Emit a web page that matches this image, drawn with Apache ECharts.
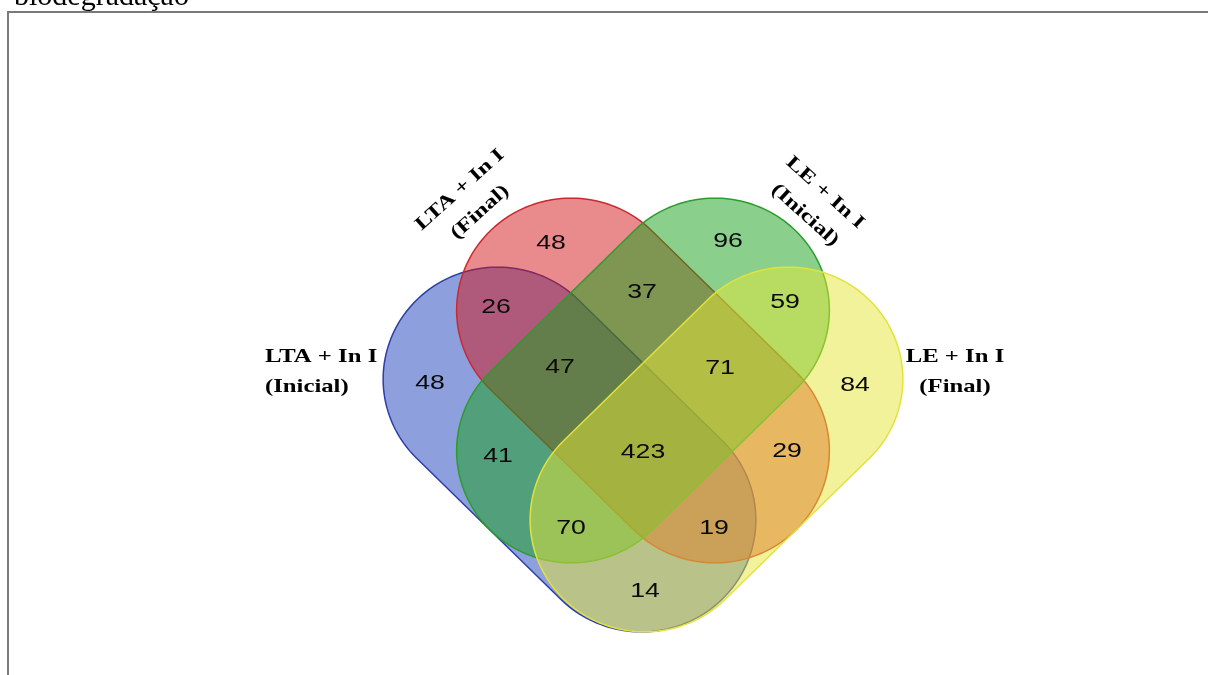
<!DOCTYPE html>
<html>
<head>
<meta charset="utf-8">
<script src="https://cdn.jsdelivr.net/npm/echarts@6/dist/echarts.min.js"></script>
<style>
  html, body { margin: 0; padding: 0; background: #ffffff; }
  #chart { width: 1208px; height: 675px; }
</style>
</head>
<body>
<div id="chart"></div>
<script>
// ---- data ----
const setNames = ['LTA + In I\n(Inicial)', 'LTA + In I\n(Final)', 'LE + In I\n(Inicial)', 'LE + In I\n(Final)'];
// A = LTA Inicial, B = LTA Final, C = LE Inicial, D = LE Final
const regionSets = ['A', 'B', 'C', 'D', 'AB', 'BC', 'CD', 'ABC', 'BCD', 'AC', 'ABCD', 'BD', 'ACD', 'ABD', 'AD'];
const regionCounts = [48, 48, 96, 84, 26, 37, 59, 47, 71, 41, 423, 29, 70, 19, 14];
const chartTitle = 'biodegradação';

// ---- layout (pixel space of the 1208 x 675 canvas) ----
// each set is a rounded capsule: centre and tilt; shared cap radius and distance between cap centres
const capsuleLayout = [
  { cx: 569.5, cy: 449.5, angle: 45 },
  { cx: 643, cy: 380.5, angle: 45 },
  { cx: 643, cy: 380.5, angle: -45 },
  { cx: 716.5, cy: 449.5, angle: -45 }
];
const capRadius = 112;
const capSpan = 199;
const stretchX = 1.022;
const regionPos = [
  [430, 383], [551, 243], [728, 241], [855, 385],
  [496, 307], [642, 292], [785, 302],
  [560, 367], [720, 368],
  [498, 456], [643, 452], [787, 451],
  [571, 528], [714, 528], [645, 591]
];
const setLabelLayout = [
  { x: 265, y: 372, rot: 0, align: 'left', size: 19, sx: 1.3 },
  { x: 470, y: 201, rot: 42, align: 'center', size: 19, sx: 1.3 },
  { x: 815, y: 204, rot: -42, align: 'center', size: 19, sx: 1.3 },
  { x: 955, y: 372, rot: 0, align: 'center', size: 19, sx: 1.3 }
];
const fills = ['rgba(27,63,185,0.5)', 'rgba(211,21,25,0.5)', 'rgba(21,161,25,0.5)', 'rgba(229,229,53,0.5)'];
const strokes = ['#2b3ea6', '#c92a2e', '#2c9c2c', '#e2e23c'];

const chart = echarts.init(document.getElementById('chart'), null, { renderer: 'canvas' });

function capsulePoints(s, api) {
  const th = s.angle * Math.PI / 180;
  const dx = Math.cos(th) * capSpan / 2;
  const dy = Math.sin(th) * capSpan / 2;
  const caps = [[dx, dy, th - Math.PI / 2], [-dx, -dy, th + Math.PI / 2]];
  const pts = [];
  const n = 90;
  caps.forEach(function (c) {
    for (let k = 0; k <= n; k++) {
      const t = c[2] + Math.PI * k / n;
      const mx = c[0] + capRadius * Math.cos(t);
      const my = c[1] + capRadius * Math.sin(t);
      pts.push(api.coord([s.cx + stretchX * mx, s.cy + my]));
    }
  });
  return pts;
}

const option = {
  animation: false,
  backgroundColor: '#ffffff',
  grid: { left: 0, right: 0, top: 0, bottom: 0 },
  xAxis: { type: 'value', min: 0, max: 1208, show: false },
  yAxis: { type: 'value', min: 0, max: 675, inverse: true, show: false },
  graphic: [
    {
      type: 'polyline', silent: true,
      shape: { points: [[8, 675], [8, 12], [1208, 12]] },
      style: { stroke: '#7a7a7a', lineWidth: 2, fill: null }
    },
    {
      type: 'text', x: 14, y: -3, silent: true,
      style: { text: chartTitle, font: '30px "Liberation Serif"', fill: '#000', textAlign: 'left', textVerticalAlign: 'middle' }
    }
  ].concat(setLabelLayout.map((l, i) => ({
    type: 'text', x: l.x, y: l.y, rotation: l.rot * Math.PI / 180, scaleX: l.sx, silent: true,
    style: {
      text: setNames[i], font: 'bold ' + l.size + 'px "Liberation Serif"', fill: '#000',
      textAlign: l.align, textVerticalAlign: 'middle', lineHeight: 30
    }
  }))),
  series: [
    {
      type: 'custom',
      name: 'sets',
      coordinateSystem: 'cartesian2d',
      clip: false,
      silent: true,
      encode: { x: 0, y: 1 },
      data: capsuleLayout.map((s, i) => [s.cx, s.cy, i]),
      renderItem: function (params, api) {
        const i = params.dataIndex;
        return {
          type: 'polygon',
          shape: { points: capsulePoints(capsuleLayout[i], api) },
          style: { fill: fills[i], stroke: strokes[i], lineWidth: 1.5 }
        };
      },
      z: 1
    },
    {
      type: 'custom',
      name: 'regions',
      coordinateSystem: 'cartesian2d',
      clip: false,
      silent: true,
      encode: { x: 0, y: 1 },
      data: regionCounts.map((c, i) => [regionPos[i][0], regionPos[i][1], c]),
      renderItem: function (params, api) {
        const p = api.coord([api.value(0), api.value(1)]);
        return {
          type: 'text',
          x: p[0], y: p[1], scaleX: 1.3,
          style: {
            text: String(api.value(2)), font: '20.5px "Liberation Sans"', fill: '#0a0a0a',
            textAlign: 'center', textVerticalAlign: 'middle'
          }
        };
      },
      z: 2
    }
  ]
};
chart.setOption(option);
</script>
</body>
</html>
